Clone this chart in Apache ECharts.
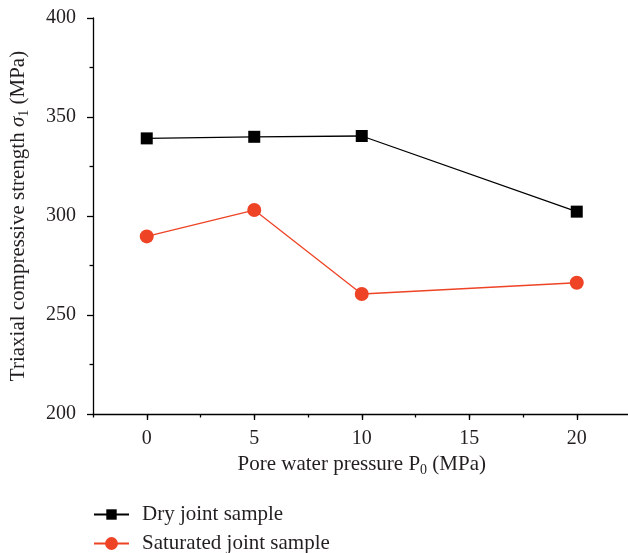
<!DOCTYPE html>
<html>
<head>
<meta charset="utf-8">
<script src="https://cdn.jsdelivr.net/npm/echarts@6/dist/echarts.min.js"></script>
<style>
  html, body { margin: 0; padding: 0; background: #fff; }
  #chart { width: 628px; height: 553px; }
</style>
</head>
<body>
<div id="chart"></div>
<script>
// Pore water pressure (MPa)
const pressure = [0, 5, 10, 20];
// Triaxial compressive strength (MPa)
const drySample = [339.2, 340.0, 340.4, 302.2];
const saturatedSample = [289.7, 303.0, 260.6, 266.3];
const xTickValues = [0, 5, 10, 15, 20];
const seriesNames = ['Dry joint sample', 'Saturated joint sample'];

const FONT = 'Liberation Serif';
const TEXT = '#231f20';
const RED = '#ee4325';

const chart = echarts.init(document.getElementById('chart'), null, { renderer: 'canvas' });

const toPairs = (xs, ys) => xs.map((x, i) => [x, ys[i]]);

// one legend block per series, stacked vertically
const legendItem = (name, top, markerSize) => ({
  orient: 'vertical',
  left: 88,
  top: top,
  itemWidth: 35,
  itemHeight: markerSize,
  itemGap: 0,
  textStyle: { fontFamily: FONT, fontSize: 21, color: TEXT, padding: [0, 0, 0, 8] },
  data: [name]
});

chart.setOption({
  animation: false,
  backgroundColor: '#fff',
  textStyle: { fontFamily: FONT, color: TEXT },
  grid: { left: 93, top: 18, width: 537.5, bottom: 139, containLabel: false, outerBoundsMode: 'none' },
  xAxis: [
    {
      type: 'value',
      min: -2.5,
      max: 22.5,
      name: 'Pore water pressure P{sub|0} (MPa)',
      nameLocation: 'middle',
      nameGap: 34,
      nameTextStyle: {
        fontFamily: FONT, fontSize: 21, color: TEXT,
        rich: { sub: { fontFamily: FONT, fontSize: 14, verticalAlign: 'bottom', padding: [12, 0, 0, 0] } }
      },
      axisLine: { show: true, onZero: false, lineStyle: { color: '#000', width: 1.3 } },
      axisTick: { show: true, customValues: xTickValues, length: 6, lineStyle: { color: '#000', width: 1.3 } },
      axisLabel: { customValues: xTickValues, fontFamily: FONT, fontSize: 20, color: TEXT, margin: 15 },
      splitLine: { show: false }
    },
    {
      // minor ticks every 2.5 MPa
      type: 'value',
      min: -2.5,
      max: 22.5,
      interval: 2.5,
      position: 'bottom',
      gridIndex: 0,
      axisLine: { show: false, onZero: false },
      axisTick: { show: true, length: 3.5, lineStyle: { color: '#000', width: 1.3 } },
      axisLabel: { show: false },
      splitLine: { show: false }
    }
  ],
  yAxis: {
    type: 'value',
    min: 200,
    max: 400,
    interval: 50,
    name: 'Triaxial compressive strength {it|σ}{sub|1} (MPa)',
    nameLocation: 'middle',
    nameRotate: 90,
    nameGap: 62,
    nameTextStyle: {
      fontFamily: FONT, fontSize: 21, color: TEXT,
      rich: {
        it: { fontFamily: FONT, fontSize: 21, fontStyle: 'italic' },
        sub: { fontFamily: FONT, fontSize: 14, verticalAlign: 'bottom', padding: [12, 0, 0, 0] }
      }
    },
    axisLine: { show: true, onZero: false, lineStyle: { color: '#000', width: 1.3 } },
    axisTick: { show: true, length: 6, lineStyle: { color: '#000', width: 1.3 } },
    minorTick: { show: true, splitNumber: 2, length: 3.5, lineStyle: { color: '#000', width: 1.3 } },
    axisLabel: { fontFamily: FONT, fontSize: 20, color: TEXT, margin: 17 },
    splitLine: { show: false }
  },
  legend: [
    legendItem(seriesNames[0], 499, 13),
    legendItem(seriesNames[1], 528, 16)
  ],
  series: [
    {
      name: seriesNames[0],
      type: 'line',
      data: toPairs(pressure, drySample),
      symbol: 'rect',
      symbolSize: 12,
      color: '#000',
      lineStyle: { color: '#000', width: 1.3 },
      itemStyle: { color: '#000' }
    },
    {
      name: seriesNames[1],
      type: 'line',
      data: toPairs(pressure, saturatedSample),
      symbol: 'circle',
      symbolSize: 14,
      color: RED,
      lineStyle: { color: RED, width: 1.3 },
      itemStyle: { color: RED }
    }
  ]
});
</script>
</body>
</html>
